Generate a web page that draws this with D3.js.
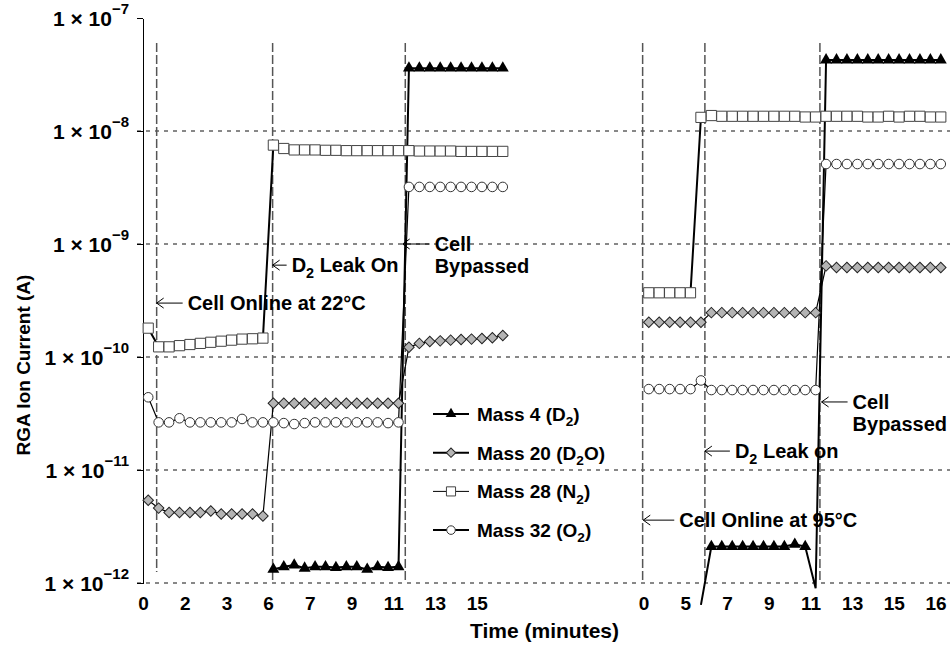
<!DOCTYPE html>
<html lang="en">
<head>
<meta charset="UTF-8"/>
<title>RGA Ion Current</title>
<script src="https://cdnjs.cloudflare.com/ajax/libs/d3/7.8.5/d3.min.js"></script>
<style>
    body { margin: 0; background: #fff; }
    text { font-family: "Liberation Sans", Arial, sans-serif; font-weight: bold; fill: #000; }
    .narrow text, text.narrow { font-family: "Liberation Sans Narrow", "Arial Narrow", "Liberation Sans", sans-serif; }
    .grid line { stroke: #111; stroke-width: 1; stroke-dasharray: 4,5; }
    .event line { stroke: #555; stroke-width: 1.5; stroke-dasharray: 9,3; }
    .yaxis path, .yaxis line { stroke: #000; stroke-width: 1.2; shape-rendering: crispEdges; }
    .note line, .note path { stroke: #000; stroke-width: 1; fill: none; }
</style>
</head>
<body>
<svg width="950" height="650"></svg>
<script>
// sample index along the time axis: first run at 0..34, second run at 48..76
const leftStart = 0, rightStart = 48, lastIndex = 76;
const leftLabels = ["0", "2", "3", "6", "7", "9", "11", "13", "15"];
const rightLabels = ["0", "5", "7", "9", "11", "13", "15", "16"];
const yTicks = [1e-12, 1e-11, 1e-10, 1e-9, 1e-8, 1e-7];

// first run (22 C)
const d2Left = [null, null, null, null, null, null, null, null, null, null, null, null,
    1.32e-12, 1.39e-12, 1.44e-12, 1.35e-12, 1.39e-12, 1.39e-12, 1.37e-12, 1.39e-12, 1.39e-12, 1.32e-12, 1.39e-12, 1.37e-12, 1.39e-12,
    3.6e-8, 3.6e-8, 3.6e-8, 3.6e-8, 3.6e-8, 3.6e-8, 3.6e-8, 3.6e-8, 3.6e-8, 3.6e-8];
const d2oLeft = [5.4e-12, 4.6e-12, 4.2e-12, 4.2e-12, 4.2e-12, 4.2e-12, 4.34e-12, 4.08e-12, 4.08e-12, 4.08e-12, 4.08e-12, 3.92e-12,
    3.9e-11, 3.9e-11, 3.9e-11, 3.9e-11, 3.9e-11, 3.9e-11, 3.9e-11, 3.9e-11, 3.9e-11, 3.9e-11, 3.9e-11, 3.9e-11, 3.9e-11,
    1.22e-10, 1.32e-10, 1.37e-10, 1.39e-10, 1.41e-10, 1.43e-10, 1.44e-10, 1.46e-10, 1.48e-10, 1.55e-10];
const n2Left = [1.8e-10, 1.23e-10, 1.23e-10, 1.26e-10, 1.29e-10, 1.32e-10, 1.35e-10, 1.38e-10, 1.41e-10, 1.44e-10, 1.45e-10, 1.47e-10,
    7.5e-9, 7.0e-9, 6.8e-9, 6.8e-9, 6.8e-9, 6.75e-9, 6.75e-9, 6.7e-9, 6.7e-9, 6.7e-9, 6.7e-9, 6.7e-9, 6.7e-9, 6.7e-9,
    6.65e-9, 6.65e-9, 6.65e-9, 6.65e-9, 6.6e-9, 6.6e-9, 6.6e-9, 6.6e-9, 6.6e-9];
const o2Left = [4.4e-11, 2.64e-11, 2.64e-11, 2.87e-11, 2.64e-11, 2.64e-11, 2.64e-11, 2.64e-11, 2.64e-11, 2.83e-11, 2.64e-11, 2.64e-11,
    2.64e-11, 2.6e-11, 2.55e-11, 2.6e-11, 2.64e-11, 2.64e-11, 2.64e-11, 2.64e-11, 2.64e-11, 2.64e-11, 2.64e-11, 2.6e-11, 2.64e-11,
    3.2e-9, 3.2e-9, 3.2e-9, 3.2e-9, 3.2e-9, 3.2e-9, 3.2e-9, 3.2e-9, 3.2e-9, 3.2e-9];

// second run (95 C)
const d2Right = [null, null, null, null, null, 6.4e-13,
    2.1e-12, 2.1e-12, 2.1e-12, 2.1e-12, 2.1e-12, 2.1e-12, 2.1e-12, 2.1e-12, 2.2e-12, 2.1e-12, 9e-13,
    4.25e-8, 4.25e-8, 4.25e-8, 4.25e-8, 4.25e-8, 4.25e-8, 4.25e-8, 4.25e-8, 4.25e-8, 4.25e-8, 4.25e-8, 4.25e-8];
const d2oRight = [2.03e-10, 2.03e-10, 2.03e-10, 2.03e-10, 2.03e-10, 2.03e-10,
    2.47e-10, 2.47e-10, 2.47e-10, 2.47e-10, 2.47e-10, 2.47e-10, 2.47e-10, 2.47e-10, 2.47e-10, 2.47e-10, 2.47e-10,
    6.4e-10, 6.2e-10, 6.2e-10, 6.2e-10, 6.2e-10, 6.2e-10, 6.2e-10, 6.2e-10, 6.2e-10, 6.2e-10, 6.2e-10, 6.2e-10];
const n2Right = [3.7e-10, 3.7e-10, 3.7e-10, 3.7e-10, 3.7e-10, 1.32e-8, 1.37e-8,
    1.35e-8, 1.35e-8, 1.35e-8, 1.35e-8, 1.35e-8, 1.35e-8, 1.35e-8, 1.35e-8, 1.33e-8, 1.33e-8, 1.35e-8,
    1.35e-8, 1.35e-8, 1.35e-8, 1.33e-8, 1.33e-8, 1.35e-8, 1.33e-8, 1.35e-8, 1.35e-8, 1.33e-8, 1.33e-8];
const o2Right = [5.2e-11, 5.2e-11, 5.2e-11, 5.2e-11, 5.2e-11, 6.2e-11,
    5.1e-11, 5.1e-11, 5.1e-11, 5.1e-11, 5.1e-11, 5.1e-11, 5.1e-11, 5.1e-11, 5.1e-11, 5.1e-11, 5.1e-11,
    5.1e-9, 5.1e-9, 5.1e-9, 5.1e-9, 5.1e-9, 5.1e-9, 5.1e-9, 5.1e-9, 5.1e-9, 5.1e-9, 5.1e-9, 5.1e-9];

const legendNames = ["Mass 4 (D_2)", "Mass 20 (D_2O)", "Mass 28 (N_2)", "Mass 32 (O_2)"];

// events (sample index) and their notes
const eventPos = [0.81, 11.93, 24.65, 47.41, 53.38, 64.41];
const noteText = [["Cell Online at 22°C"], ["D_2 Leak On"], ["Cell", "Bypassed"],
    ["Cell Online at 95°C"], ["D_2 Leak on"], ["Cell", "Bypassed"]];
const noteAt = [0.81, 11.93, 24.4, 47.47, 53.38, 64.57];
const noteValue = [3.0e-10, 6.5e-10, 1.0e-9, 3.6e-12, 1.47e-11, 4.0e-11];
const arrowLen = [26, 14, 27, 31, 25, 26];

let svg = d3.select("svg");

let x = d3.scaleLinear().domain([-0.5, lastIndex + 0.5]).range([143, 946]);
let y = d3.scaleLog().domain([1e-12, 1e-7]).range([583, 18]);

// text with "_2" style subscripts
function rich(sel, str, size) {
    str.split(/_(\d)/).forEach(function(part, k) {
        if (!part) return;
        if (k % 2 === 1) {
            sel.append("tspan").attr("font-size", size * 0.72).attr("dy", size * 0.28).text(part);
        } else {
            let t = sel.append("tspan").text(part);
            if (k > 0) t.attr("dy", -size * 0.28);
        }
    });
}

// gridlines (none drawn at the top of the plot)
svg.append("g").attr("class", "grid")
    .selectAll("line").data(yTicks.slice(0, -1)).enter().append("line")
    .attr("x1", x.range()[0] - 6).attr("x2", 950)
    .attr("y1", d => y(d)).attr("y2", d => y(d));

// event markers
svg.append("g").attr("class", "event")
    .selectAll("line").data(eventPos).enter().append("line")
    .attr("x1", d => x(d)).attr("x2", d => x(d))
    .attr("y1", y(6e-8)).attr("y2", (d, i) => i === 0 ? y(1.25e-12) : y(1e-12));

// y axis
let gy = svg.append("g").attr("class", "yaxis")
    .attr("transform", "translate(" + x.range()[0] + ",0)")
    .call(d3.axisLeft(y).tickValues(yTicks).tickSize(6).tickSizeOuter(0).tickFormat(""));
gy.selectAll(".tick text").each(function(d) {
    let t = d3.select(this).attr("font-size", 21).attr("x", -14).attr("dy", "0.36em");
    t.append("tspan").text("1 \u00d7 10");
    t.append("tspan").attr("font-size", 15).attr("dy", "-0.8em").text("\u2212" + Math.round(-Math.log10(d)));
});

// x labels (category boundaries, every 4th sample)
let xTickPos = leftLabels.map((l, k) => leftStart + 4 * k - 0.5)
    .concat(rightLabels.map((l, k) => rightStart + 4 * k - 0.5));
let xTickText = leftLabels.concat(rightLabels);
let gx = svg.append("g").attr("class", "narrow")
    .attr("transform", "translate(0," + y(1e-12) + ")")
    .call(d3.axisBottom(x).tickValues(xTickPos).tickSize(0).tickPadding(14)
        .tickFormat((d, i) => xTickText[i]));
gx.select(".domain").remove();
gx.selectAll("text").attr("font-size", 19).attr("font-weight", "bold").attr("fill", "#000");

// axis titles
svg.append("text").attr("class", "narrow")
    .attr("x", (x.range()[0] + x.range()[1]) / 2).attr("y", 638)
    .attr("text-anchor", "middle").attr("font-size", 21)
    .text("Time (minutes)");
svg.append("text")
    .attr("transform", "translate(30,365) rotate(-90)")
    .attr("text-anchor", "middle").attr("font-size", 19)
    .text("RGA Ion Current (A)");

// series
const series = [
    {name: "d2", left: d2Left, right: d2Right, symbol: d3.symbolTriangle, size: 62, fill: "#000", stroke: "none", width: 2, rotate: 0},
    {name: "d2o", left: d2oLeft, right: d2oRight, symbol: d3.symbolSquare, size: 55, fill: "#b4b4b4", stroke: "#222", width: 1.2, rotate: 45},
    {name: "n2", left: n2Left, right: n2Right, symbol: d3.symbolSquare, size: 104, fill: "#fff", stroke: "#444", width: 2, rotate: 0},
    {name: "o2", left: o2Left, right: o2Right, symbol: d3.symbolCircle, size: 72, fill: "#fff", stroke: "#333", width: 1.2, rotate: 0}
];

function points(start, arr) {
    return arr.map((v, k) => ({i: start + k, v: v}));
}

let line = d3.line()
    .defined(d => d.v != null)
    .x(d => x(d.i))
    .y(d => y(d.v));

series.forEach(function(s) {
    [points(leftStart, s.left), points(rightStart, s.right)].forEach(function(pts) {
        svg.append("path").datum(pts)
            .attr("d", line)
            .attr("fill", "none")
            .attr("stroke", "#000")
            .attr("stroke-width", s.width);
    });
});

series.forEach(function(s) {
    let pts = points(leftStart, s.left).concat(points(rightStart, s.right))
        .filter(d => d.v != null && d.v >= 1e-12);
    svg.append("g").selectAll("path").data(pts).enter().append("path")
        .attr("d", d3.symbol().type(s.symbol).size(s.size))
        .attr("transform", d => "translate(" + x(d.i) + "," + y(d.v) + ") rotate(" + s.rotate + ")")
        .attr("fill", s.fill)
        .attr("stroke", s.stroke)
        .attr("stroke-width", 1);
});

// notes with arrows
eventPos.forEach(function(e, n) {
    let ax = x(noteAt[n]), ay = y(noteValue[n]), len = arrowLen[n];
    let g = svg.append("g").attr("class", "note");
    g.append("line").attr("x1", ax).attr("x2", ax + len).attr("y1", ay).attr("y2", ay);
    g.append("path").attr("d", "M" + (ax + 7) + "," + (ay - 5) + "L" + ax + "," + ay + "L" + (ax + 7) + "," + (ay + 5));
    noteText[n].forEach(function(txt, k) {
        let t = g.append("text").attr("x", ax + len + 5).attr("y", ay + 7 + k * 22).attr("font-size", 20);
        rich(t, txt, 20);
    });
});

// legend
let legend = svg.append("g").attr("transform", "translate(433,414)");
series.forEach(function(s, k) {
    let row = legend.append("g").attr("transform", "translate(0," + k * 38.7 + ")");
    row.append("line").attr("x1", 0).attr("x2", 36).attr("y1", 0).attr("y2", 0)
        .attr("stroke", "#000").attr("stroke-width", s.name === "n2" ? 1 : 2);
    row.append("path")
        .attr("d", d3.symbol().type(s.symbol).size(s.size * 0.8))
        .attr("transform", "translate(18,0) rotate(" + s.rotate + ")")
        .attr("fill", s.fill).attr("stroke", s.stroke).attr("stroke-width", 1);
    let t = row.append("text").attr("x", 44).attr("y", 7).attr("font-size", 19);
    rich(t, legendNames[k], 19);
});
</script>
</body>
</html>
